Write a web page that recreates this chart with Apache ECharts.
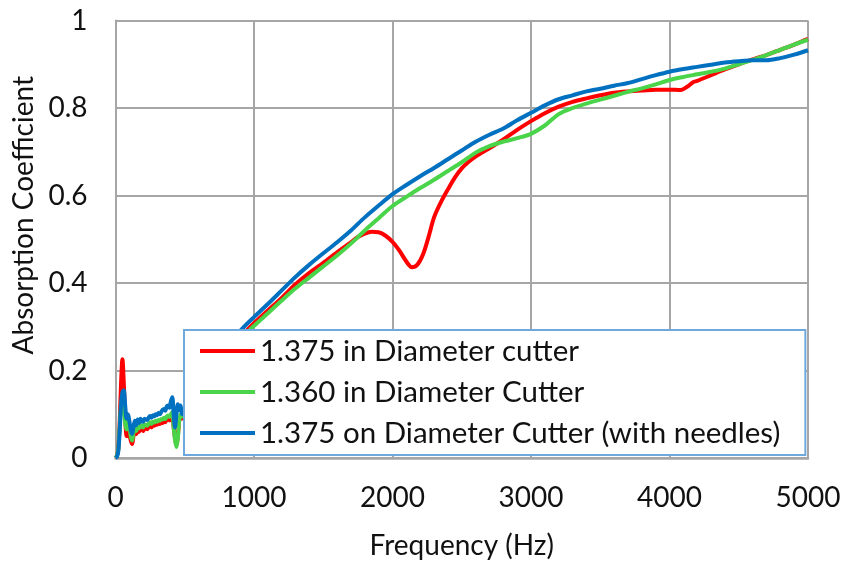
<!DOCTYPE html>
<html>
<head>
<meta charset="utf-8">
<script src="https://cdn.jsdelivr.net/npm/echarts@6/dist/echarts.min.js"></script>
<style>
  html, body { margin: 0; padding: 0; background: #fff; }
  #chart { width: 845px; height: 565px; }
</style>
</head>
<body>
<div id="chart"></div>
<script>
// Absorption coefficient vs frequency for three cutter configurations.

// Low-frequency band (0–500 Hz), shared 10 Hz sampling
const freqLow = [0,10,20,30,40,50,60,70,80,90,100,110,120,130,140,150,160,170,180,190,200,
  210,220,230,240,250,260,270,280,290,300,310,320,330,340,350,360,370,380,390,400,
  410,420,430,440,450,460,470,480,490,500];

const redLow = [0,0.005,0.02,0.08,0.17,0.226,0.17,0.09,0.05,0.075,0.055,0.04,0.032,0.05,0.06,0.055,0.065,0.06,0.07,0.066,0.062,
  0.07,0.068,0.066,0.072,0.074,0.07,0.076,0.074,0.078,0.076,0.08,0.078,0.082,0.08,0.085,0.082,0.088,0.09,0.086,0.092,
  0.098,0.07,0.045,0.03,0.05,0.085,0.095,0.09,0.095,0.1];

const greenLow = [0,0.005,0.02,0.07,0.12,0.139,0.12,0.08,0.065,0.09,0.075,0.05,0.04,0.058,0.07,0.062,0.072,0.068,0.076,0.072,0.07,
  0.077,0.075,0.074,0.079,0.082,0.078,0.083,0.081,0.085,0.083,0.087,0.085,0.089,0.088,0.092,0.089,0.095,0.097,0.094,0.1,
  0.105,0.07,0.04,0.025,0.045,0.085,0.1,0.095,0.098,0.102];

const blueLow = [0,0.003,0.015,0.06,0.12,0.15,0.155,0.12,0.09,0.1,0.085,0.065,0.055,0.072,0.085,0.075,0.088,0.08,0.09,0.085,0.083,
  0.09,0.088,0.087,0.093,0.096,0.092,0.098,0.095,0.1,0.098,0.103,0.1,0.105,0.11,0.112,0.108,0.118,0.12,0.115,0.13,
  0.139,0.1,0.07,0.1,0.123,0.11,0.12,0.1,0.105,0.11];

// Upper band (600–5000 Hz), [frequency, coefficient]
const redHigh = [[600,0.14],[700,0.185],[800,0.232],[900,0.275],[1000,0.308],[1100,0.337],[1200,0.366],[1300,0.397],
  [1400,0.423],[1500,0.446],[1600,0.47],[1700,0.493],[1750,0.505],[1800,0.513],[1850,0.517],[1900,0.516],[1950,0.508],
  [2000,0.494],[2050,0.474],[2100,0.449],[2140,0.436],[2180,0.442],[2220,0.465],[2260,0.505],[2300,0.55],[2350,0.585],
  [2400,0.614],[2450,0.641],[2500,0.662],[2550,0.677],[2600,0.689],[2700,0.708],[2800,0.728],[2900,0.75],[3000,0.77],
  [3100,0.788],[3200,0.803],[3300,0.814],[3400,0.822],[3500,0.829],[3600,0.835],[3700,0.838],[3800,0.84],[3900,0.842],
  [4000,0.842],[4080,0.841],[4130,0.849],[4170,0.859],[4200,0.862],[4300,0.875],[4400,0.888],[4500,0.9],[4600,0.911],
  [4700,0.921],[4800,0.933],[4900,0.945],[5000,0.958]];

const greenHigh = [[600,0.14],[700,0.185],[800,0.23],[900,0.27],[1000,0.302],[1100,0.331],[1200,0.36],[1300,0.388],
  [1400,0.413],[1500,0.438],[1600,0.463],[1700,0.49],[1800,0.52],[1900,0.548],[2000,0.576],[2100,0.597],[2200,0.617],
  [2300,0.636],[2400,0.656],[2500,0.676],[2600,0.698],[2700,0.713],[2800,0.723],[2900,0.731],[3000,0.741],[3100,0.76],
  [3200,0.786],[3300,0.8],[3400,0.81],[3500,0.819],[3600,0.828],[3700,0.837],[3800,0.845],[3900,0.854],[4000,0.864],
  [4100,0.871],[4200,0.877],[4300,0.883],[4400,0.89],[4500,0.9],[4600,0.91],[4700,0.921],[4800,0.933],[4900,0.945],[5000,0.956]];

const blueHigh = [[600,0.15],[700,0.2],[800,0.245],[900,0.29],[1000,0.322],[1100,0.352],[1200,0.383],[1300,0.414],
  [1400,0.442],[1500,0.468],[1600,0.493],[1700,0.52],[1800,0.55],[1900,0.577],[2000,0.603],[2100,0.624],[2200,0.644],
  [2300,0.663],[2400,0.683],[2500,0.703],[2600,0.723],[2700,0.739],[2800,0.753],[2900,0.772],[3000,0.789],[3100,0.806],
  [3200,0.82],[3300,0.829],[3400,0.838],[3500,0.844],[3600,0.851],[3700,0.857],[3800,0.866],[3900,0.875],[4000,0.883],
  [4100,0.889],[4200,0.894],[4300,0.899],[4400,0.904],[4500,0.907],[4600,0.909],[4700,0.909],[4800,0.914],[4900,0.922],[5000,0.932]];

const seriesNames = [
  '1.375 in Diameter cutter',
  '1.360 in Diameter Cutter',
  '1.375 on Diameter Cutter (with needles)'
];
const seriesColors = ['#ff0000', '#4ad44a', '#0070c0'];

const xTitle = 'Frequency (Hz)';
const yTitle = 'Absorption Coefficient';

function join(low, high) {
  return freqLow.map((f, i) => [f, low[i]]).concat(high);
}

const seriesData = [join(redLow, redHigh), join(greenLow, greenHigh), join(blueLow, blueHigh)];

const FONT = 'Lato, "Open Sans", sans-serif';
const gridColor = '#a6a6a6';

const chart = echarts.init(document.getElementById('chart'), null, { renderer: 'canvas' });

chart.setOption({
  animation: false,
  backgroundColor: '#ffffff',
  textStyle: { fontFamily: FONT },
  grid: { left: 115.5, right: 37, top: 20.5, bottom: 104, containLabel: false },
  xAxis: {
    type: 'value', min: 0, max: 5000, interval: 1000,
    name: xTitle, nameLocation: 'middle', nameGap: 74,
    nameTextStyle: { fontSize: 28, color: '#111', fontFamily: FONT },
    axisLine: { show: true, lineStyle: { color: gridColor, width: 2.5 } },
    axisTick: { show: false },
    axisLabel: { fontSize: 28, color: '#111', margin: 26, fontFamily: FONT, formatter: v => String(v) },
    splitLine: { show: true, lineStyle: { color: gridColor, width: 2 } }
  },
  yAxis: {
    type: 'value', min: 0, max: 1, interval: 0.2,
    name: yTitle, nameLocation: 'middle', nameGap: 76,
    nameTextStyle: { fontSize: 28, color: '#111', fontFamily: FONT, padding: [0, 0, 0, 48] },
    axisLine: { show: true, lineStyle: { color: gridColor, width: 2 } },
    axisTick: { show: false },
    axisLabel: { fontSize: 28, color: '#111', margin: 28, fontFamily: FONT },
    splitLine: { show: true, lineStyle: { color: gridColor, width: 2 } }
  },
  legend: {
    orient: 'vertical',
    left: 184, top: 330,
    padding: [6, 25, 7, 16],
    itemGap: 11,
    itemWidth: 55, itemHeight: 4,
    icon: 'rect',
    backgroundColor: '#ffffff',
    borderColor: '#6fa8dc', borderWidth: 2,
    textStyle: { fontSize: 29.5, color: '#111', lineHeight: 30, fontFamily: FONT },
    data: seriesNames
  },
  series: seriesData.map((d, i) => ({
    name: seriesNames[i],
    type: 'line',
    data: d,
    smooth: 0.3,
    symbol: 'none',
    color: seriesColors[i],
    lineStyle: { width: 4, color: seriesColors[i] }
  }))
});
</script>
</body>
</html>
